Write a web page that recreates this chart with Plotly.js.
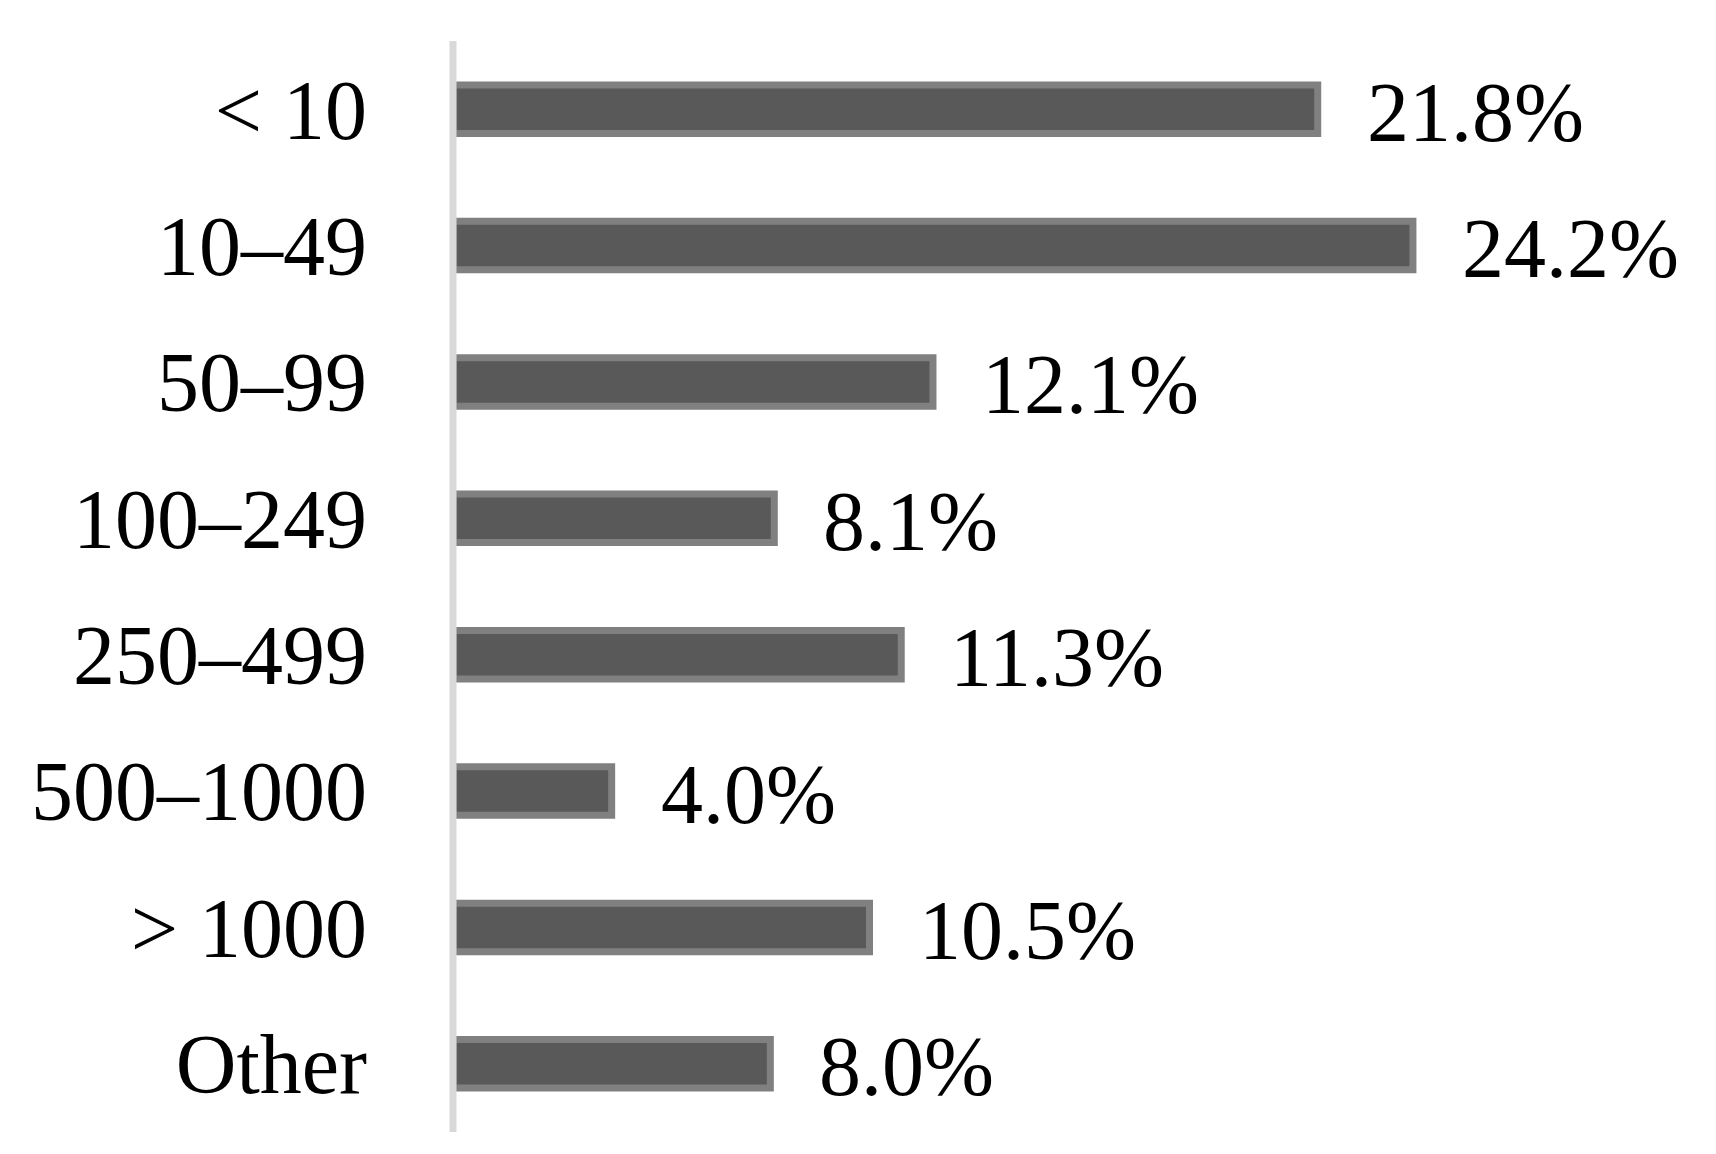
<!DOCTYPE html>
<html><head><meta charset="utf-8">
<script src="https://cdn.plot.ly/plotly-3.0.1.min.js"></script>
<style>body{margin:0;background:#fff}#chart{width:1716px;height:1154px}</style>
</head><body><div id="chart"></div>
<script>
const categories = ["< 10", "10–49", "50–99", "100–249", "250–499", "500–1000", "> 1000", "Other"];
const values = [21.8, 24.2, 12.1, 8.1, 11.3, 4.0, 10.5, 8.0];
const labels = ["21.8%", "24.2%", "12.1%", "8.1%", "11.3%", "4.0%", "10.5%", "8.0%"];

const font = "Liberation Serif, Times New Roman, serif";
const trace = {
  type: "bar", orientation: "h",
  x: values, y: categories,
  width: 0.355,
  marker: {color: "#595959", line: {color: "#808080", width: 7}},
  hoverinfo: "none"
};
const annotations = values.map((v, i) => ({
  x: v, y: categories[i], xref: "x", yref: "y",
  text: labels[i], showarrow: false,
  xanchor: "left", yanchor: "middle", xshift: 47, yshift: -3,
  font: {family: font, size: 84, color: "#000"}
}));
const layout = {
  width: 1716, height: 1154,
  margin: {l: 453, r: 73, t: 41, b: 22, pad: 0},
  paper_bgcolor: "#fff", plot_bgcolor: "#fff",
  showlegend: false,
  xaxis: {range: [0, 30], visible: false, showgrid: false, zeroline: false, fixedrange: true},
  yaxis: {
    type: "category", range: [7.5, -0.5],
    showline: false,
    showgrid: false, zeroline: false, ticks: "",
    ticklabelstandoff: 85,
    tickfont: {family: font, size: 84, color: "#000"}
  },
  shapes: [{
    type: "line", xref: "paper", yref: "paper", x0: 0, x1: 0, y0: 0, y1: 1,
    line: {color: "#d9d9d9", width: 7}, layer: "above"
  }],
  annotations: annotations
};
Plotly.newPlot("chart", [trace], layout, {displayModeBar: false, staticPlot: true});
</script></body></html>
